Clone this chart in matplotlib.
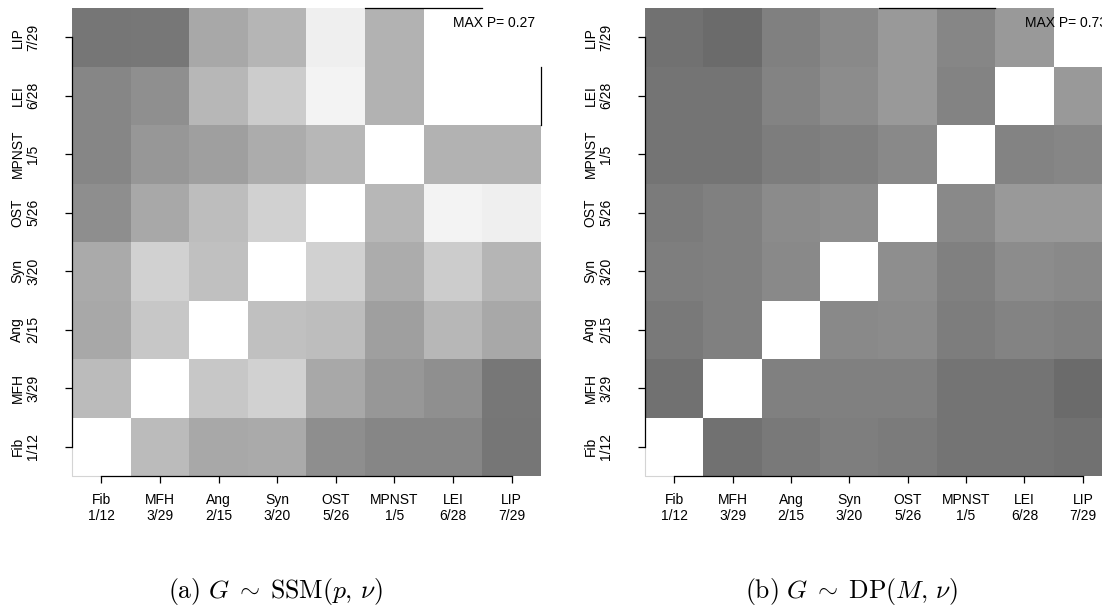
import matplotlib
matplotlib.use('Agg')
import matplotlib.pyplot as plt
import numpy as np

plt.rcParams['font.family'] = ['Liberation Sans', 'DejaVu Sans']
plt.rcParams['mathtext.fontset'] = 'cm'

# Tumour subtypes, bottom-to-top / left-to-right
subtypes = ['Fib', 'MFH', 'Ang', 'Syn', 'OST', 'MPNST', 'LEI', 'LIP']
counts = ['1/12', '3/29', '2/15', '3/20', '5/26', '1/5', '6/28', '7/29']
labels = [s + '\n' + c for s, c in zip(subtypes, counts)]

# grey level (0-255) of each cell, rows Fib (bottom) ... LIP (top)
ssm_fib = [255, 187, 168, 170, 142, 134, 134, 118]
ssm_mfh = [187, 255, 199, 209, 168, 151, 143, 119]
ssm_ang = [168, 199, 255, 192, 189, 159, 183, 168]
ssm_syn = [170, 209, 192, 255, 209, 172, 204, 181]
ssm_ost = [142, 168, 189, 209, 255, 183, 243, 239]
ssm_mpnst = [134, 151, 159, 172, 183, 255, 178, 178]
ssm_lei = [134, 143, 183, 204, 243, 178, 255, 255]
ssm_lip = [118, 119, 168, 181, 239, 178, 255, 255]

dp_fib = [255, 114, 121, 126, 123, 116, 116, 114]
dp_mfh = [114, 255, 128, 128, 128, 116, 116, 107]
dp_ang = [121, 128, 255, 137, 139, 125, 131, 128]
dp_syn = [126, 128, 137, 255, 142, 128, 140, 137]
dp_ost = [123, 128, 139, 142, 255, 137, 153, 153]
dp_mpnst = [116, 116, 125, 128, 137, 255, 132, 134]
dp_lei = [116, 116, 131, 140, 153, 132, 255, 153]
dp_lip = [114, 107, 128, 137, 153, 134, 153, 255]

ssm = [ssm_fib, ssm_mfh, ssm_ang, ssm_syn, ssm_ost, ssm_mpnst, ssm_lei, ssm_lip]
dp = [dp_fib, dp_mfh, dp_ang, dp_syn, dp_ost, dp_mpnst, dp_lei, dp_lip]
max_p = ['0.27', '0.73']
captions = [r'$\mathrm{(a)}\ G \;\sim\; \mathrm{SSM}(p,\, \nu)$',
            r'$\mathrm{(b)}\ G \;\sim\; \mathrm{DP}(M,\, \nu)$']

W, H = 1102, 607
fig = plt.figure(figsize=(W / 100, H / 100), dpi=100)


def panel(left_px, width_px, mat, maxp, text_x, topline, rightline):
    ax = fig.add_axes([left_px / W, 1 - 476 / H, width_px / W, 468 / H])
    ax.imshow(np.array(mat), cmap='gray', vmin=0, vmax=255, origin='lower',
              aspect='auto', interpolation='nearest')
    ax.set_xlim(-0.5, 7.5)
    ax.set_ylim(-0.5, 7.5)
    n = len(subtypes)
    ax.set_xticks(range(n))
    ax.set_xticklabels(labels, fontsize=10, linespacing=1.15)
    ax.set_yticks(range(n))
    ax.set_yticklabels(labels, fontsize=10, rotation=90, va='center',
                       ha='right', multialignment='center', linespacing=1.15)
    ax.tick_params(axis='x', length=5, width=0.9, pad=7.5)
    ax.tick_params(axis='y', length=5, width=0.9, pad=18)
    for s in ['top', 'right']:
        ax.spines[s].set_visible(False)
    for s in ['left', 'bottom']:
        ax.spines[s].set_bounds(0, n - 1)
        ax.spines[s].set_linewidth(0.9)
    # faint frame corner next to the white first cell
    ax.plot([-0.5, -0.5, 0], [0, -0.5, -0.5], color='#d4d4d4', lw=0.8,
            clip_on=False, zorder=1)
    if topline:
        ax.plot(topline, [7.5, 7.5], color='black', lw=0.9, clip_on=False)
    if rightline:
        ax.plot([7.5, 7.5], rightline, color='black', lw=0.9, clip_on=False)
    fig.text(text_x / W, 1 - 23 / H, 'MAX P= ' + maxp, fontsize=10,
             va='center', ha='left')
    return ax


panel(72, 469, ssm, max_p[0], 453, [4.5, 6.5], [5.5, 6.5])
panel(645, 467, dp, max_p[1], 1025, [3.5, 5.5], None)

fig.text(275 / W, 1 - 598 / H, captions[0], fontsize=18.5, ha='center',
         va='baseline')
fig.text(852 / W, 1 - 598 / H, captions[1], fontsize=18.5, ha='center',
         va='baseline')

fig.savefig('out.png', dpi=100)
